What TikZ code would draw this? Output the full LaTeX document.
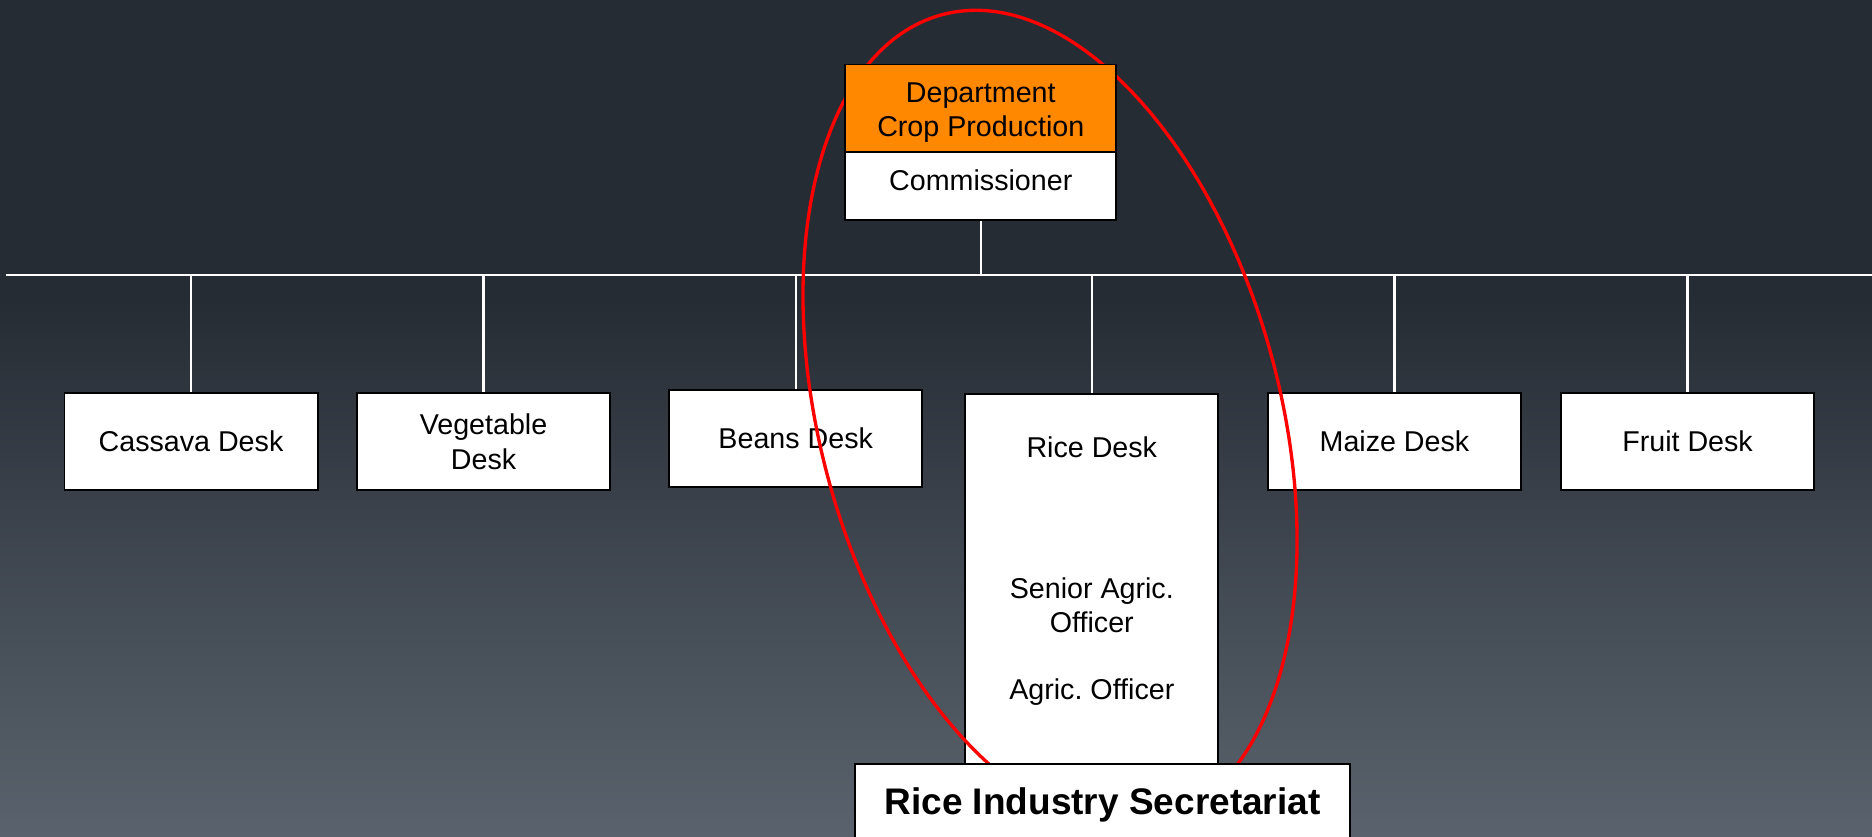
\documentclass[tikz,border=0pt]{standalone}
\usepackage{fontspec}
\setmainfont{Liberation Sans}
\usepackage{tikz}

\definecolor{bgtop}{RGB}{38,44,52}
\definecolor{bgbot}{RGB}{90,99,109}
\definecolor{deptorange}{RGB}{255,136,0}

\tikzset{
  desk/.style={draw=black, fill=white, line width=0.8pt, minimum width=106pt,
    minimum height=40.5pt, inner sep=0pt, align=center,
    font=\fontsize{12}{14.5}\selectfont},
  desktext/.style={inner sep=0pt, align=center, font=\fontsize{12}{14.5}\selectfont},
  link/.style={draw=white, line width=0.9pt},
  ring/.style={draw=red, line width=1.4pt}
}

\begin{document}
\frenchspacing
\begin{tikzpicture}[x=0.5pt,y=-0.5pt]
    \useasboundingbox (0,0) rectangle (1568,701);
    \fill [bgtop] (0,0) rectangle (1568,250);
    \shade [top color=bgtop, bottom color=bgbot] (0,249) rectangle (1568,701);

    % bus line
    \coordinate (busL) at (5,230);
    \coordinate (busR) at (1568,230);
    \draw [link] (busL) -- (busR);

    % desks
    \node [desk] (cassava) at (160,370) {Cassava Desk};
    \node [desk] (vegetable) at (405,370) {Vegetable\\Desk};
    \node [desk] (beans) at (666.5,367.5) {Beans Desk};
    \node [desk, minimum height=165.5pt, anchor=north] (rice) at (914.5,329) {};
    \node [desktext] (ricetitle) at (914.5,375) {Rice Desk};
    \node [desktext] (senior) at (914.5,507) {Senior Agric.\\Officer};
    \node [desktext] (officer) at (914.5,580) {Agric.\ Officer};
    \node [desk] (maize) at (1168,370) {Maize Desk};
    \node [desk] (fruit) at (1413.5,370) {Fruit Desk};

    \foreach \d in {cassava,vegetable,beans,rice,maize,fruit}
        \draw [link] (\d.north) -- (\d.north |- busL);

    % red ring
    \draw [ring, rotate around={15:(879.5,350)}] (879.5,350) ellipse [x radius=96.3pt, y radius=174.8pt];

    % head
    \node [desk, fill=deptorange, minimum width=113.5pt, minimum height=36.5pt] (dept) at (821.5,90.5) {\rule{0pt}{12pt}Department\\Crop Production};
    \node [desk, minimum width=113.5pt, minimum height=28.5pt, text depth=5pt] (commissioner) at (821.5,155.5) {Commissioner};
    \draw [link] (commissioner.south) -- (commissioner.south |- busL);

    \node [desk, minimum width=207.5pt, minimum height=34pt,
           font=\fontsize{15.5}{18}\selectfont\bfseries] (secretariat) at (923.5,674) {Rice Industry Secretariat};
\end{tikzpicture}
\end{document}
